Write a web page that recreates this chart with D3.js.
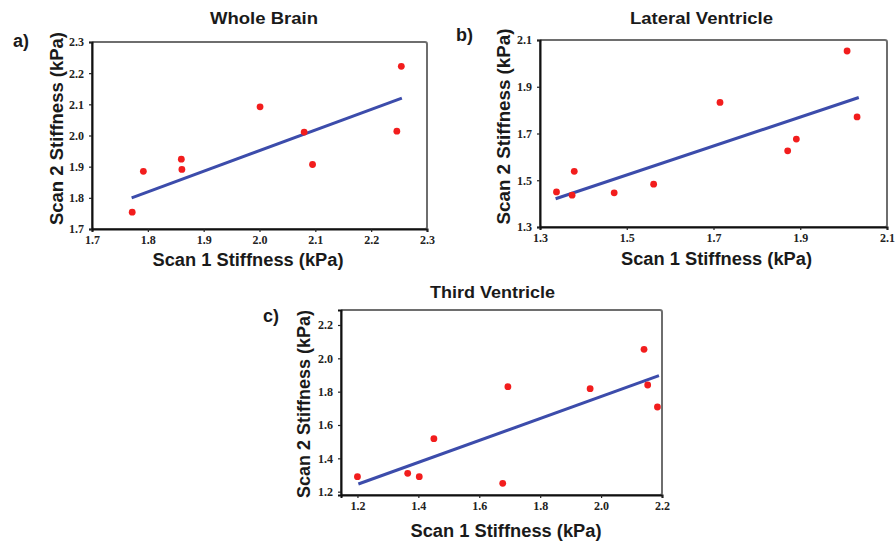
<!DOCTYPE html>
<html><head><meta charset="utf-8">
<script src="https://cdn.jsdelivr.net/npm/d3@7"></script>
<style>html,body{margin:0;padding:0;background:#fff;}svg{display:block;}</style>
</head><body>
<svg id="chart" width="896" height="549"></svg>
<script>
// ---- data ----
const titles = ["Whole Brain", "Lateral Ventricle", "Third Ventricle"];
const panelLetters = ["a)", "b)", "c)"];
const xAxisTitle = "Scan 1 Stiffness (kPa)";
const yAxisTitle = "Scan 2 Stiffness (kPa)";

const wholeBrainScan1 = [1.772, 1.792, 1.860, 1.861, 2.001, 2.080, 2.095, 2.246, 2.254];
const wholeBrainScan2 = [1.754, 1.885, 1.924, 1.891, 2.092, 2.011, 1.907, 2.014, 2.222];
const wholeBrainFitX = [1.771, 2.255];
const wholeBrainFitY = [1.800, 2.120];
const wholeBrainTicks = [1.7, 1.8, 1.9, 2.0, 2.1, 2.2, 2.3];

const lateralScan1 = [1.338, 1.379, 1.374, 1.471, 1.562, 1.715, 1.871, 1.891, 2.008, 2.031];
const lateralScan2 = [1.450, 1.538, 1.436, 1.446, 1.483, 1.833, 1.626, 1.676, 2.053, 1.771];
const lateralFitX = [1.336, 2.035];
const lateralFitY = [1.421, 1.854];
const lateralTicks = [1.3, 1.5, 1.7, 1.9, 2.1];

const thirdScan1 = [1.200, 1.365, 1.403, 1.451, 1.694, 1.677, 1.964, 2.141, 2.153, 2.185];
const thirdScan2 = [1.290, 1.310, 1.290, 1.518, 1.830, 1.250, 1.818, 2.054, 1.840, 1.708];
const thirdFitX = [1.203, 2.190];
const thirdFitY = [1.246, 1.896];
const thirdTicks = [1.2, 1.4, 1.6, 1.8, 2.0, 2.2];

// ---- layout ----
const panels = [
  {title: titles[0], letter: panelLetters[0], xs: wholeBrainScan1, ys: wholeBrainScan2, fx: wholeBrainFitX, fy: wholeBrainFitY,
   xTicks: wholeBrainTicks, yTicks: wholeBrainTicks, xDom: [1.7, 2.3], yDom: [1.7, 2.3],
   box: {l: 92, r: 427, t: 42, b: 229},
   titlePos: [264, 23.5, 108], letterPos: [13, 47], xTitlePos: [248, 266, 191], yTitlePos: [63, 128.5, 193]},
  {title: titles[1], letter: panelLetters[1], xs: lateralScan1, ys: lateralScan2, fx: lateralFitX, fy: lateralFitY,
   xTicks: lateralTicks, yTicks: lateralTicks, xDom: [1.3, 2.1], yDom: [1.3, 2.1],
   box: {l: 540, r: 887, t: 40, b: 227},
   titlePos: [701.5, 23.5, 143], letterPos: [456, 41], xTitlePos: [716.5, 265, 191], yTitlePos: [510, 126.5, 196]},
  {title: titles[2], letter: panelLetters[2], xs: thirdScan1, ys: thirdScan2, fx: thirdFitX, fy: thirdFitY,
   xTicks: thirdTicks, yTicks: thirdTicks, xDom: [1.146, 2.2], yDom: [1.18, 2.29],
   box: {l: 341, r: 662, t: 310, b: 495},
   titlePos: [492.5, 298, 125], letterPos: [263, 322], xTitlePos: [506, 537, 191], yTitlePos: [310, 404, 188]}
];

const svg = d3.select("#chart");
const sans = "'Liberation Sans', Arial, sans-serif";
const serif = "'Liberation Serif', 'Times New Roman', serif";
const fmt = d3.format(".1f");

panels.forEach(p => {
  const x = d3.scaleLinear().domain(p.xDom).range([p.box.l, p.box.r]);
  const y = d3.scaleLinear().domain(p.yDom).range([p.box.b, p.box.t]);
  const g = svg.append("g");

  g.append("rect")
    .attr("x", p.box.l).attr("y", p.box.t)
    .attr("width", p.box.r - p.box.l).attr("height", p.box.b - p.box.t)
    .attr("rx", 2)
    .attr("fill", "none").attr("stroke", "#6e6e6e").attr("stroke-width", 2);

  const xAxis = d3.axisBottom(x).tickValues(p.xTicks).tickFormat(fmt).tickSize(3).tickPadding(3);
  const yAxis = d3.axisLeft(y).tickValues(p.yTicks).tickFormat(fmt).tickSize(3).tickPadding(5);
  const gx = g.append("g").attr("transform", `translate(0,${p.box.b})`).call(xAxis);
  const gy = g.append("g").attr("transform", `translate(${p.box.l},0)`).call(yAxis);
  [gx, gy].forEach(a => {
    a.attr("font-family", serif).attr("font-size", 12);
    a.select(".domain").attr("stroke", "#111").attr("stroke-width", 2);
    a.selectAll(".tick line").attr("stroke", "#222").attr("stroke-width", 1.2);
    a.selectAll(".tick text").attr("fill", "#222")
      .style("font-family", serif).style("font-size", "12px").style("font-weight", "bold");
  });

  const fit = p.fx.map((v, i) => [v, p.fy[i]]);
  g.append("path")
    .attr("d", d3.line().x(d => x(d[0])).y(d => y(d[1]))(fit))
    .attr("fill", "none").attr("stroke", "#3c4cab").attr("stroke-width", 3);

  const pts = p.xs.map((v, i) => [v, p.ys[i]]);
  g.selectAll("circle.pt").data(pts).enter().append("circle")
    .attr("class", "pt")
    .attr("cx", d => x(d[0])).attr("cy", d => y(d[1])).attr("r", 3.4)
    .attr("fill", "#f21d1d");

  g.append("text").attr("x", p.titlePos[0]).attr("y", p.titlePos[1])
    .attr("text-anchor", "middle").attr("textLength", p.titlePos[2]).attr("lengthAdjust", "spacingAndGlyphs")
    .style("font-family", sans).style("font-weight", "bold").style("font-size", "17px").attr("fill", "#1a1a1a")
    .text(p.title);

  g.append("text").attr("x", p.letterPos[0]).attr("y", p.letterPos[1])
    .style("font-family", sans).style("font-weight", "bold").style("font-size", "18px").attr("fill", "#1a1a1a")
    .text(p.letter);

  g.append("text").attr("x", p.xTitlePos[0]).attr("y", p.xTitlePos[1])
    .attr("text-anchor", "middle").attr("textLength", p.xTitlePos[2]).attr("lengthAdjust", "spacingAndGlyphs")
    .style("font-family", sans).style("font-weight", "bold").style("font-size", "18px").attr("fill", "#1a1a1a")
    .text(xAxisTitle);

  g.append("text")
    .attr("transform", `translate(${p.yTitlePos[0]},${p.yTitlePos[1]}) rotate(-90)`)
    .attr("text-anchor", "middle").attr("textLength", p.yTitlePos[2]).attr("lengthAdjust", "spacingAndGlyphs")
    .style("font-family", sans).style("font-weight", "bold").style("font-size", "18px").attr("fill", "#1a1a1a")
    .text(yAxisTitle);
});
</script>
</body></html>
